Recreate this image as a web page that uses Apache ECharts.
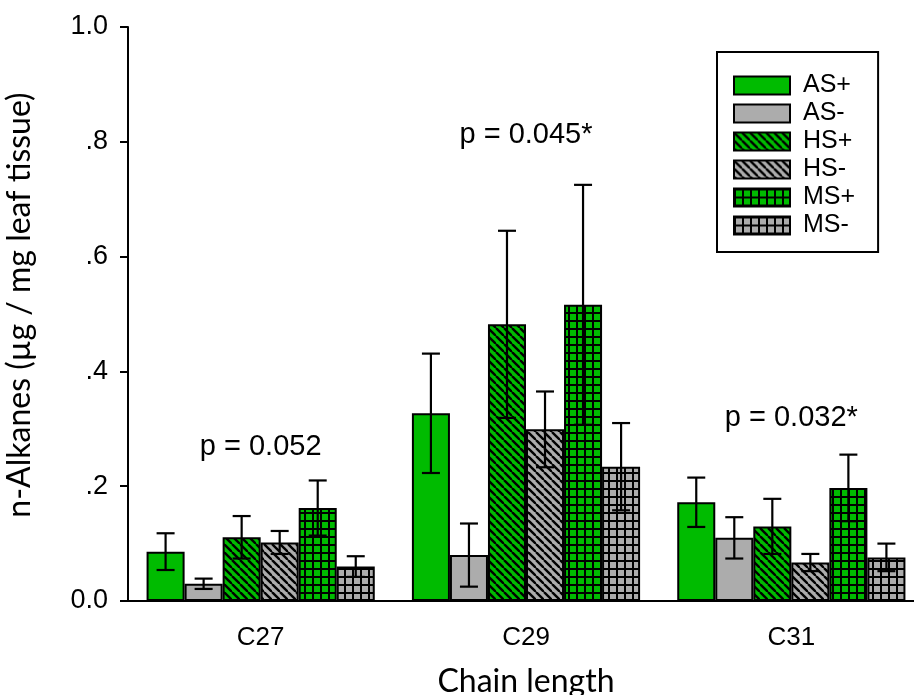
<!DOCTYPE html>
<html>
<head>
<meta charset="utf-8">
<script src="https://cdn.jsdelivr.net/npm/echarts@6/dist/echarts.min.js"></script>
<style>
  html, body { margin: 0; padding: 0; background: #fff; }
  #chart { width: 914px; height: 695px; }
</style>
</head>
<body>
<div id="chart"></div>
<script>
// chain lengths
var categories = ["C27", "C29", "C31"];
var seriesNames = ["AS+", "AS-", "HS+", "HS-", "MS+", "MS-"];
// means (µg / mg leaf tissue)
var asPlus = [0.086, 0.327, 0.172];
var asMinus = [0.030, 0.080, 0.110];
var hsPlus = [0.111, 0.482, 0.130];
var hsMinus = [0.102, 0.299, 0.067];
var msPlus = [0.162, 0.516, 0.197];
var msMinus = [0.060, 0.234, 0.076];
// error bar half lengths
var asPlusErr = [0.032, 0.104, 0.043];
var asMinusErr = [0.009, 0.055, 0.036];
var hsPlusErr = [0.037, 0.163, 0.048];
var hsMinusErr = [0.020, 0.066, 0.015];
var msPlusErr = [0.048, 0.209, 0.058];
var msMinusErr = [0.018, 0.076, 0.024];
// p value notes
var pLabels = ["p = 0.052", "p = 0.045*", "p = 0.032*"];
var pLevels = [0.268, 0.812, 0.319];
var yTicks = ["0.0", ".2", ".4", ".6", ".8", "1.0"];

var GREEN = "#00bb00";
var GRAY = "#acacac";
var CAT_GAP = 0.14;

function hatch(bg) {
  var c = document.createElement("canvas");
  c.width = 8; c.height = 8;
  var ctx = c.getContext("2d");
  ctx.fillStyle = bg;
  ctx.fillRect(0, 0, 8, 8);
  ctx.strokeStyle = "#000";
  ctx.lineWidth = 2.4;
  [-8, 0, 8].forEach(function (o) {
    ctx.beginPath();
    ctx.moveTo(o, 0);
    ctx.lineTo(o + 8, 8);
    ctx.stroke();
  });
  return { image: c, repeat: "repeat" };
}

function grid(bg) {
  var c = document.createElement("canvas");
  c.width = 8; c.height = 8;
  var ctx = c.getContext("2d");
  ctx.fillStyle = "#000";
  ctx.fillRect(0, 0, 8, 8);
  ctx.fillStyle = bg;
  ctx.fillRect(2, 2, 6, 6);
  return { image: c, repeat: "repeat" };
}

var values = [asPlus, asMinus, hsPlus, hsMinus, msPlus, msMinus];
var errs = [asPlusErr, asMinusErr, hsPlusErr, hsMinusErr, msPlusErr, msMinusErr];
var fills = [GREEN, GRAY, hatch(GREEN), hatch(GRAY), grid(GREEN), grid(GRAY)];

var series = [];
for (var s = 0; s < 6; s++) {
  series.push({
    name: seriesNames[s],
    type: "bar",
    data: values[s],
    barGap: "0%",
    barCategoryGap: (CAT_GAP * 100) + "%",
    itemStyle: { color: fills[s], borderColor: "#000", borderWidth: 2 },
    z: 2
  });
}

var errData = [];
for (var s2 = 0; s2 < 6; s2++) {
  for (var c = 0; c < categories.length; c++) {
    errData.push([c, s2, values[s2][c] - errs[s2][c], values[s2][c] + errs[s2][c]]);
  }
}

series.push({
  type: "custom",
  name: "err",
  z: 5,
  silent: true,
  data: errData,
  renderItem: function (params, api) {
    var cat = api.value(0), idx = api.value(1);
    var band = api.size([1, 0])[0];
    var barW = band * (1 - CAT_GAP) / 6;
    var x = api.coord([cat, 0])[0] + (idx - 2.5) * barW;
    var lo = api.coord([cat, api.value(2)])[1];
    var hi = api.coord([cat, api.value(3)])[1];
    var st = { stroke: "#000", lineWidth: 2.2 };
    var cap = 9;
    return {
      type: "group",
      children: [
        { type: "line", shape: { x1: x, y1: lo, x2: x, y2: hi }, style: st },
        { type: "line", shape: { x1: x - cap, y1: hi, x2: x + cap, y2: hi }, style: st },
        { type: "line", shape: { x1: x - cap, y1: lo, x2: x + cap, y2: lo }, style: st }
      ]
    };
  }
});

series.push({
  type: "scatter",
  name: "p",
  silent: true,
  symbolSize: 1,
  itemStyle: { color: "transparent", opacity: 1 },
  data: pLevels.map(function (v, i) { return [i, v]; }),
  label: {
    show: true,
    position: "inside",
    color: "#000",
    opacity: 1,
    textBorderWidth: 0,
    fontFamily: "Liberation Sans",
    fontSize: 29,
    formatter: function (p) { return pLabels[p.dataIndex]; }
  },
  z: 6
});

var myChart = echarts.init(document.getElementById("chart"));
var option = {
  animation: false,
  backgroundColor: "#fff",
  grid: { left: 128, right: -10, top: 27, bottom: 94, containLabel: false, outerBoundsMode: "none" },
  legend: {
    data: seriesNames,
    orient: "vertical",
    left: 717,
    top: 52,
    padding: [21, 23, 14, 16],
    itemWidth: 56,
    itemHeight: 18,
    itemGap: 3,
    icon: "rect",
    borderColor: "#000",
    borderWidth: 2,
    selectedMode: false,
    textStyle: { color: "#000", fontFamily: "Liberation Sans", fontSize: 25, padding: [0, 0, 0, 8] }
  },
  xAxis: {
    type: "category",
    data: categories,
    name: "Chain length",
    nameLocation: "middle",
    nameGap: 65,
    nameTextStyle: { color: "#000", fontFamily: "Lato", fontSize: 32 },
    axisLine: { lineStyle: { color: "#000", width: 2 } },
    axisTick: { alignWithLabel: true, length: 8, lineStyle: { color: "#000", width: 2 } },
    axisLabel: { color: "#000", fontFamily: "Liberation Sans", fontSize: 26, margin: 24 }
  },
  yAxis: {
    type: "value",
    min: 0,
    max: 1,
    interval: 0.2,
    name: "n-Alkanes (µg / mg leaf tissue)",
    nameLocation: "middle",
    nameGap: 92,
    nameTextStyle: { color: "#000", fontFamily: "Lato", fontSize: 32, padding: [0, 0, 0, 18] },
    axisLine: { show: true, lineStyle: { color: "#000", width: 2 } },
    axisTick: { show: true, length: 8, lineStyle: { color: "#000", width: 2 } },
    splitLine: { show: false },
    axisLabel: {
      color: "#000",
      fontFamily: "Liberation Sans",
      fontSize: 27,
      margin: 20,
      formatter: function (v) { return yTicks[Math.round(v * 5)]; }
    }
  },
  series: series
};
myChart.setOption(option);
</script>
</body>
</html>
